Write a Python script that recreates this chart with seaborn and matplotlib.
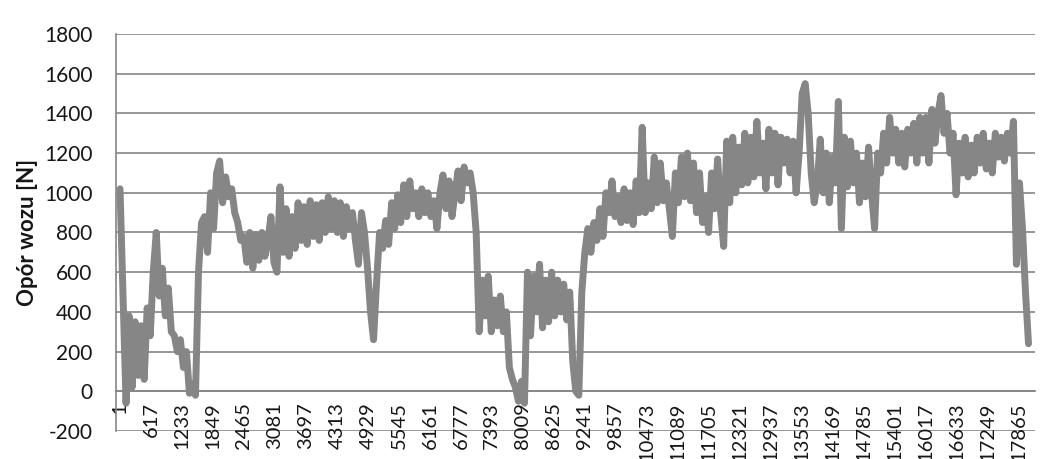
import numpy as np
import pandas as pd
import matplotlib
matplotlib.use("Agg")
import matplotlib.pyplot as plt
import seaborn as sns

# ---- data (one value every 60 samples) ----
step = 60
opor_wozu = [
    1020, 480, -60, 380, 20, 350, 80, 330, 60, 420, 280, 600, 800, 480, 620, 380,
    520, 300, 280, 200, 260, 120, 200, -10, 40, -20, 600, 850,
    880, 700, 1000, 820, 1100, 1160, 950, 1080, 980, 1020, 900, 850, 760, 780, 650, 800,
    620, 790, 660, 800, 680, 760, 880, 650, 600, 1030, 700, 920, 680, 880, 720, 950,
    760, 930, 740, 960, 780, 940, 760, 950, 800,
    980, 820, 960, 800, 950, 780, 930, 820, 900, 760, 640, 900, 800, 620, 400, 260,
    550, 800, 720, 860, 740, 950, 820, 990, 850,
    1040, 880, 1060, 920, 1000, 880, 1020, 900, 1000, 880, 960, 820, 1000, 1090, 920,
    1060, 880, 1000, 1110, 960, 1130, 1050, 1100, 1000,
    800, 300, 560, 380, 580, 300, 460, 330, 480, 300, 400, 120, 60, 20, -50, 50, -60,
    600, 280, 580, 400, 640, 320, 560, 350, 600, 380, 560, 400, 540, 360, 500, 150, 0, -20,
    500, 700, 820, 700, 850, 760, 920, 780, 1000, 900, 1060, 880, 980, 850, 1020, 860,
    1000, 840, 1060, 900, 1330, 900, 1050, 920, 1180, 950, 1150, 960, 1050, 920, 780,
    1100, 950, 1180, 980, 1200, 960, 1150,
    900, 1100, 850, 980, 800, 1100, 920, 1170, 900, 730, 1260, 950, 1280, 1000, 1230,
    1040, 1300, 1050, 1280, 1080, 1360, 1100, 1250, 1020, 1320, 1100, 1300, 1040, 1280,
    1150, 1270, 1100, 1260, 1000, 1200, 1500, 1550,
    1400, 1100, 950, 1050, 1270, 1000, 1200, 950, 1180, 1050, 1460, 820, 1280, 1030,
    1260, 1050, 1200, 950, 1150, 980, 1230, 1000, 820, 1200, 1100, 1300, 1150, 1380,
    1200, 1320, 1150, 1300, 1130, 1320, 1200, 1350, 1150, 1380, 1200,
    1380, 1150, 1420, 1250, 1400, 1490, 1300, 1400, 1200, 1300, 990, 1250, 1100, 1280,
    1080, 1240, 1100, 1280, 1150, 1300, 1120, 1250, 1100, 1300, 1180, 1280, 1160, 1300,
    1200, 1360, 640, 1050, 820, 500, 240,
]
probka = [1 + step * i for i in range(len(opor_wozu))]

x_tick_labels = [1, 617, 1233, 1849, 2465, 3081, 3697, 4313, 4929, 5545, 6161,
                 6777, 7393, 8009, 8625, 9241, 9857, 10473, 11089, 11705, 12321,
                 12937, 13553, 14169, 14785, 15401, 16017, 16633, 17249, 17865]
y_ticks = [-200, 0, 200, 400, 600, 800, 1000, 1200, 1400, 1600, 1800]
y_label = "Opór wozu [N]"

df = pd.DataFrame({"probka": probka, "opor": opor_wozu})

sns.set_theme(style="white")
plt.rcParams["font.family"] = ["Lato", "DejaVu Sans"]

fig = plt.figure(figsize=(10.64, 4.59), dpi=100)
ax = fig.add_axes([116 / 1064, 1 - 431 / 459, (1035 - 116) / 1064, (431 - 34) / 459])

grid_col = "#858585"
text_col = "#161616"
for s in ["top", "right"]:
    ax.spines[s].set_visible(False)
ax.spines["bottom"].set_position(("data", 0))
ax.spines["left"].set_color(grid_col)
ax.spines["left"].set_linewidth(1.2)
ax.spines["bottom"].set_color(grid_col)
ax.spines["bottom"].set_linewidth(1.2)

for v in y_ticks:
    ax.axhline(v, color=grid_col, lw=1.2, zorder=0)

sns.lineplot(data=df, x="probka", y="opor", ax=ax, color="#868686",
             linewidth=5.0, estimator=None, zorder=2)

ax.set_xlim(-79, 18190)
ax.set_ylim(-200, 1800)
ax.set_yticks(y_ticks)
ax.set_yticklabels([str(v) for v in y_ticks], fontsize=15, color=text_col)
ax.set_xticks(x_tick_labels)
ax.set_xticklabels([str(v) for v in x_tick_labels], fontsize=14.5, color=text_col)
ax.tick_params(axis="x", direction="out", length=5, width=1.1, color=grid_col,
               pad=3, labelrotation=90)
ax.tick_params(axis="y", length=0, pad=17)

ax.set_xlabel("")
ax.set_ylabel(y_label, fontsize=16, fontweight="bold", color=text_col, labelpad=4)

fig.savefig("out.png", dpi=100)
